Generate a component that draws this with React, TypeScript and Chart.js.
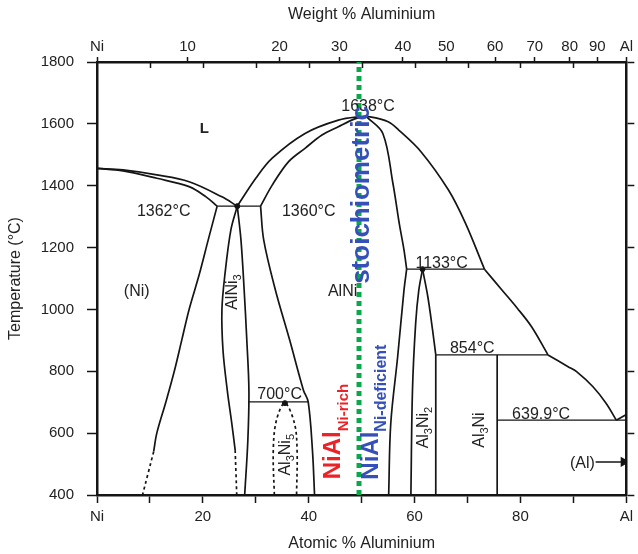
import React, { useEffect, useRef } from 'react';
import { Chart, registerables } from 'chart.js';

Chart.register(...registerables);

const FONT = '"Liberation Sans", Arial, Helvetica, sans-serif';
const INK = '#151515';
const TEXT = '#222222';
const GREEN = '#0aa84a';
const BLUE = '#3550b8';
const RED = '#ec2227';

// Axes
const tempTicks = [400, 600, 800, 1000, 1200, 1400, 1600, 1800];
const atomicTicks = [0, 10, 20, 30, 40, 50, 60, 70, 80, 90, 100];
const atomicLabels = ['Ni', '', '20', '', '40', '', '60', '', '80', '', 'Al'];
// weight % ticks, placed at the atomic % where the figure draws them
const weightTickPositions = [0, 17.1, 34.5, 45.8, 57.8, 66.0, 75.2, 82.7, 89.3, 94.5, 100];
const weightLabels = ['Ni', '10', '20', '30', '40', '50', '60', '70', '80', '90', 'Al'];

// Phase boundaries: [atomic % Al, temperature °C]
const liquidusNi = [[0, 1456], [4.9, 1451], [11.3, 1435], [17.4, 1413], [23.6, 1364], [26.5, 1334]];
const solidusNi = [[0, 1456], [4.9, 1448], [11.3, 1424], [17.4, 1397], [20.6, 1364], [22.7, 1334]];
const solvusNi = [[22.7, 1334], [21.0, 1224], [19.3, 1112], [17.4, 1000], [16.0, 900], [14.6, 800], [13.0, 700], [11.3, 600], [10.7, 540]];
const solvusNiDashed = [[10.7, 540], [8.6, 400]];
const alNi3Left = [[26.5, 1334], [25.3, 1258], [24.2, 1118], [23.6, 999], [23.8, 869], [24.6, 740], [25.5, 627], [26.1, 545]];
const alNi3LeftDashed = [[26.1, 545], [26.4, 400]];
const alNi3Right = [[26.5, 1334], [27.2, 1224], [27.8, 1063], [28.3, 901], [28.7, 739], [28.5, 578], [27.9, 400]];
const alNiLeft = [[30.9, 1334], [31.5, 1224], [33.7, 1063], [36.4, 901], [39.0, 739], [39.9, 701], [40.7, 545], [41.1, 400]];
const alNiSolidus = [[30.9, 1334], [33.1, 1402], [36.2, 1478], [39.3, 1521], [42.5, 1564], [45.6, 1591], [48.7, 1616], [50.3, 1623]];
const liquidusMain = [[26.5, 1334], [30.0, 1424], [33.1, 1489], [39.3, 1569], [45.6, 1612], [49.7, 1623], [51.4, 1623], [55.0, 1607], [57.0, 1580], [61.2, 1510], [66.4, 1386], [69.6, 1279], [73.2, 1130]];
const liquidusMid = [[73.2, 1130], [76.5, 1063], [79.4, 1004], [82.1, 944], [85.2, 853]];
const liquidusAl = [[85.2, 853], [89.0, 815], [90.6, 799], [93.7, 750], [96.2, 696], [98.1, 642]];
const liquidusAlSide = [[98.1, 642], [100, 660]];
const alNiRightHigh = [[51.0, 1622], [54.0, 1569], [55.9, 1408], [57.1, 1278], [58.0, 1192], [58.5, 1130]];
const alNiRightLow = [[58.5, 1130], [58.0, 1063], [56.8, 847], [55.5, 632], [55.1, 400]];
const al3Ni2Left = [[61.5, 1130], [60.8, 1063], [60.2, 955], [59.6, 739], [59.3, 400]];
const al3Ni2Right = [[61.5, 1130], [62.5, 1041], [63.4, 933], [64.0, 853]];
const al3Ni2Vertical = [[64.0, 853], [64.0, 400]];
const al3NiVertical = [[75.6, 853], [75.6, 400]];
const al3Ni5Dome = [[33.5, 400], [33.3, 545], [33.9, 642], [35.5, 697], [37.3, 632], [37.8, 545], [37.7, 400]];

// Invariant lines
const iso1362 = [[22.7, 1334], [30.9, 1334]];
const iso1133 = [[58.5, 1130], [73.2, 1130]];
const iso854 = [[64.0, 853], [85.2, 853]];
const iso700 = [[28.6, 701], [39.9, 701]];
const iso640 = [[75.6, 642], [100, 642]];

const invariantPoints = [[26.5, 1334], [61.5, 1130], [35.5, 697]];
const alArrow = [[94.2, 507], [99.5, 507]];
const stoichiometricLine = [[49.5, 400], [49.5, 1800]];

// Labels: [text, atomic %, temperature]; {x} = subscript
const phaseLabels: [string, number, number][] = [
  ['1362°C', 12.6, 1321],
  ['1360°C', 40.0, 1321],
  ['1638°C', 51.2, 1661],
  ['1133°C', 65.1, 1153],
  ['854°C', 70.9, 878],
  ['639.9°C', 83.9, 665],
  ['700°C', 34.5, 730],
  ['(Ni)', 7.5, 1063],
  ['AlNi', 46.4, 1063],
  ['(Al)', 91.7, 507],
];
const boldLabels: [string, number, number][] = [['L', 20.3, 1587]];
const verticalLabels: [string, number, number][] = [
  ['AlNi{3}', 25.3, 1056],
  ['Al{3}Ni{5}', 35.3, 530],
  ['Al{3}Ni{2}', 61.5, 618],
  ['Al{3}Ni', 72.0, 610],
];
const overlayLabels: [string, number, number, string][] = [
  ['stoichiometric', 49.6, 1370, BLUE],
  ['NiAl{Ni-rich}', 44.3, 605, RED],
  ['NiAl{Ni-deficient}', 51.4, 668, BLUE],
];

const pts = (a: number[][]) => a.map(([x, y]) => ({ x, y }));

function parseRich(s: string) {
  const parts: { t: string; sub: boolean }[] = [];
  const re = /([^{]+)|\{([^}]*)\}/g;
  let m: RegExpExecArray | null;
  while ((m = re.exec(s))) {
    if (m[1] !== undefined) parts.push({ t: m[1], sub: false });
    else parts.push({ t: m[2], sub: true });
  }
  return parts;
}

function drawRich(
  ctx: CanvasRenderingContext2D,
  x: number,
  y: number,
  s: string,
  o: { size: number; subSize: number; subShift: number; bold?: boolean; color: string; vertical?: boolean }
) {
  const parts = parseRich(s);
  const w = o.bold ? 'bold ' : '';
  const fMain = `${w}${o.size}px ${FONT}`;
  const fSub = `${w}${o.subSize}px ${FONT}`;
  let total = 0;
  const widths = parts.map((p) => {
    ctx.font = p.sub ? fSub : fMain;
    const mw = ctx.measureText(p.t).width;
    total += mw;
    return mw;
  });
  ctx.save();
  ctx.translate(x, y);
  if (o.vertical) ctx.rotate(-Math.PI / 2);
  ctx.fillStyle = o.color;
  ctx.textBaseline = 'alphabetic';
  ctx.textAlign = 'left';
  let cx = -total / 2;
  const base = o.size * 0.36;
  parts.forEach((p, i) => {
    ctx.font = p.sub ? fSub : fMain;
    ctx.fillText(p.t, cx, p.sub ? base + o.subShift : base);
    cx += widths[i];
  });
  ctx.restore();
}

const annotate = {
  id: 'annotate',
  afterDatasetsDraw(chart: any) {
    const { ctx, chartArea } = chart;
    const xs = chart.scales.x;
    const ys = chart.scales.y;
    ctx.save();
    ctx.strokeStyle = INK;
    ctx.lineWidth = 1.5;
    atomicTicks.slice(1, -1).forEach((v) => {
      const px = Math.round(xs.getPixelForValue(v)) + 0.5;
      ctx.beginPath();
      ctx.moveTo(px, chartArea.top);
      ctx.lineTo(px, chartArea.top + 6);
      ctx.stroke();
    });
    ctx.restore();
    phaseLabels.forEach(([t, a, T]) =>
      drawRich(ctx, xs.getPixelForValue(a), ys.getPixelForValue(T), t, { size: 16, subSize: 11, subShift: 4, color: TEXT })
    );
    boldLabels.forEach(([t, a, T]) =>
      drawRich(ctx, xs.getPixelForValue(a), ys.getPixelForValue(T), t, { size: 15, subSize: 11, subShift: 4, bold: true, color: TEXT })
    );
    verticalLabels.forEach(([t, a, T]) =>
      drawRich(ctx, xs.getPixelForValue(a), ys.getPixelForValue(T), t, { size: 16, subSize: 11, subShift: 4, color: TEXT, vertical: true })
    );
    overlayLabels.forEach(([t, a, T, c], i) =>
      drawRich(ctx, xs.getPixelForValue(a), ys.getPixelForValue(T), t, {
        size: i === 0 ? 26 : 24,
        subSize: i === 1 ? 15 : 16,
        subShift: 8,
        bold: true,
        color: c,
        vertical: true,
      })
    );
  },
};

function lineDs(data: number[][], extra: any = {}) {
  return {
    data: pts(data),
    showLine: true,
    borderColor: INK,
    borderWidth: 1.7,
    pointRadius: 0,
    tension: 0.35,
    fill: false,
    ...extra,
  };
}

export default function App() {
  const ref = useRef<HTMLCanvasElement | null>(null);
  useEffect(() => {
    document.body.style.margin = '0';
    const canvas = ref.current!;
    const dashed = { borderDash: [3, 3], tension: 0.2 };
    const iso = { borderWidth: 1.2, tension: 0 };
    const tickFont = { family: FONT, size: 15 };
    const titleFont = { family: FONT, size: 16 };
    const chart = new Chart(canvas, {
      type: 'scatter',
      data: {
        datasets: [
          lineDs(stoichiometricLine, { borderColor: GREEN, borderWidth: 5, borderDash: [5, 4], tension: 0, order: -1 }),
          lineDs(liquidusNi),
          lineDs(solidusNi),
          lineDs(solvusNi),
          lineDs(solvusNiDashed, dashed),
          lineDs(alNi3Left),
          lineDs(alNi3LeftDashed, dashed),
          lineDs(alNi3Right),
          lineDs(alNiLeft),
          lineDs(alNiSolidus),
          lineDs(liquidusMain),
          lineDs(liquidusMid),
          lineDs(liquidusAl),
          lineDs(liquidusAlSide, { tension: 0 }),
          lineDs(alNiRightHigh),
          lineDs(alNiRightLow),
          lineDs(al3Ni2Left),
          lineDs(al3Ni2Right),
          lineDs(al3Ni2Vertical, { tension: 0 }),
          lineDs(al3NiVertical, { tension: 0 }),
          lineDs(al3Ni5Dome, { borderDash: [3, 3], tension: 0.35 }),
          lineDs(iso1362, iso),
          lineDs(iso1133, iso),
          lineDs(iso854, iso),
          lineDs(iso700, iso),
          lineDs(iso640, iso),
          lineDs(alArrow, {
            tension: 0,
            borderWidth: 1.5,
            pointRadius: [0, 4.5],
            pointStyle: 'triangle',
            pointRotation: 90,
            pointBackgroundColor: INK,
            pointBorderColor: INK,
          }),
          {
            data: pts(invariantPoints),
            showLine: false,
            pointRadius: 2.5,
            pointBackgroundColor: INK,
            pointBorderColor: INK,
          },
        ],
      },
      options: {
        animation: false,
        responsive: false,
        maintainAspectRatio: false,
        devicePixelRatio: 1,
        events: [],
        layout: { padding: 0 },
        plugins: { legend: { display: false }, tooltip: { enabled: false } },
        scales: {
          x: {
            type: 'linear',
            position: 'bottom',
            min: 0,
            max: 100,
            afterBuildTicks: (s: any) => {
              s.ticks = atomicTicks.map((v) => ({ value: v }));
            },
            afterFit: (s: any) => {
              s.height = 59;
            },
            ticks: {
              autoSkip: false,
              maxRotation: 0,
              font: tickFont,
              color: TEXT,
              padding: 5,
              callback: (_v: any, i: number) => atomicLabels[i],
            },
            grid: { drawOnChartArea: false, tickLength: 8, tickWidth: 1.5, tickColor: INK },
            border: { display: true, width: 2.5, color: INK },
            title: { display: true, text: 'Atomic % Aluminium', font: titleFont, color: TEXT, padding: { top: 0, bottom: 1 } },
          },
          x2: {
            type: 'linear',
            position: 'top',
            min: 0,
            max: 100,
            afterBuildTicks: (s: any) => {
              s.ticks = weightTickPositions.map((v) => ({ value: v }));
            },
            afterFit: (s: any) => {
              s.height = 62;
            },
            ticks: {
              autoSkip: false,
              maxRotation: 0,
              font: tickFont,
              color: TEXT,
              padding: 1,
              callback: (_v: any, i: number) => weightLabels[i],
            },
            grid: { drawOnChartArea: false, tickLength: 5, tickWidth: 1.5, tickColor: INK },
            border: { display: true, width: 2.5, color: INK },
            title: { display: true, text: 'Weight % Aluminium', font: titleFont, color: TEXT, padding: { top: 5, bottom: 0 } },
          },
          y: {
            type: 'linear',
            position: 'left',
            min: 400,
            max: 1800,
            afterBuildTicks: (s: any) => {
              s.ticks = tempTicks.map((v) => ({ value: v }));
            },
            afterFit: (s: any) => {
              s.width = 97;
            },
            ticks: { font: tickFont, color: TEXT, padding: 13, callback: (v: any) => String(v) },
            grid: { drawOnChartArea: false, tickLength: 10, tickWidth: 1.5, tickColor: INK },
            border: { display: true, width: 2.5, color: INK },
            title: { display: true, text: 'Temperature (°C)', font: titleFont, color: TEXT, padding: { top: 6, bottom: 0 } },
          },
          y2: {
            type: 'linear',
            position: 'right',
            min: 400,
            max: 1800,
            afterBuildTicks: (s: any) => {
              s.ticks = tempTicks.map((v) => ({ value: v }));
            },
            afterFit: (s: any) => {
              s.width = 8;
            },
            ticks: { padding: 0, callback: () => '' },
            grid: { drawOnChartArea: false, tickLength: 8, tickWidth: 1.5, tickColor: INK },
            border: { display: true, width: 2.5, color: INK },
          },
        },
      } as any,
      plugins: [annotate],
    });
    return () => chart.destroy();
  }, []);
  return <canvas ref={ref} width={638} height={554} style={{ display: 'block' }} />;
}
